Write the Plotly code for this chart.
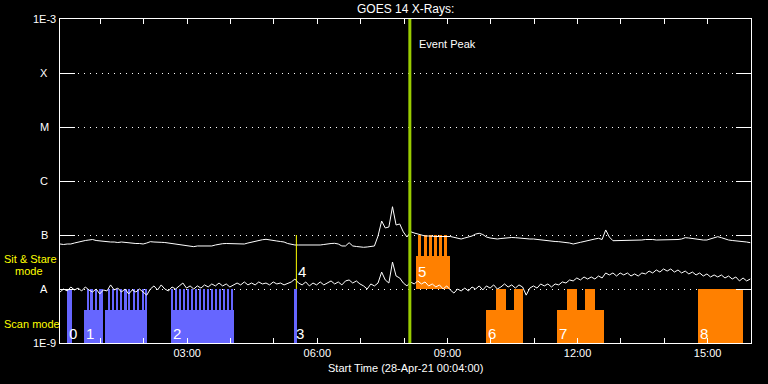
import pandas as pd
import plotly.graph_objects as go

DAY = "2021-04-28"
START = "00:04"
END = "16:00"
SAMPLE_MIN = 5

# GOES 14 long (upper) and short (lower) channel, nW/m^2, 5-min samples from 00:04
long_nW = [
    68.1, 66.7, 68.1, 68.1, 71.1, 74.2, 75.8, 79.1, 80.8, 82.5,
    79.1, 77.4, 77.4, 75.8, 74.2, 74.2, 72.6, 74.2, 72.6, 71.1,
    71.1, 69.6, 69.6, 68.1, 71.1, 75.2, 74.2, 72.6, 73.2, 72.6,
    71.1, 71.1, 69.6, 68.1, 65.3, 63.9, 62.6, 60.8, 62.6, 62.6,
    63.4, 62.6, 62.6, 65.3, 68.1, 69.0, 69.6, 69.6, 70.2, 69.6,
    68.1, 68.1, 71.1, 74.2, 77.4, 80.8, 81.7, 83.2, 80.8, 77.4,
    77.4, 75.8, 74.2, 69.6, 66.7, 65.3, 65.3, 65.3, 65.3, 63.9,
    63.9, 63.4, 65.3, 66.7, 69.0, 69.6, 70.2, 68.1, 62.6, 62.6,
    72.0, 62.6, 61.3, 60.0, 59.2, 60.0, 60.8, 62.6, 95.8, 181.6,
    135, 140.6, 334, 153, 160, 114, 91.8, 115, 109, 104,
    97.8, 95.8, 95.8, 93.8, 93.8, 93.8, 93.8, 95.8, 93.8, 90.6,
    88.0, 84.3, 88.0, 91.8, 95.8, 104, 107.7, 102, 91.8, 88.0,
    86.1, 84.3, 86.1, 88.0, 89.2, 89.9, 89.2, 88.0, 84.3, 84.3,
    84.3, 84.3, 82.5, 82.5, 80.8, 79.8, 77.4, 75.8, 75.2, 74.2,
    73.2, 71.1, 68.1, 69.6, 73.2, 75.8, 79.1, 80.8, 84.3, 86.9,
    82.5, 124, 91.8, 78.4, 78.4, 78.4, 79.1, 80.8, 80.8, 80.8,
    80.8, 80.8, 82.5, 83.2, 82.5, 80.8, 80.8, 80.8, 80.8, 80.8,
    80.8, 82.5, 84.3, 89.2, 88.0, 86.1, 82.5, 80.8, 80.8, 80.8,
    84.3, 89.9, 93.1, 89.2, 84.3, 80.8, 79.1, 78.4, 77.4, 75.8,
    74.2, 72.0,
]
short_nW = [
    8.8, 10.0, 9.2, 10.9, 9.6, 10.4, 9.2, 10.9, 9.6, 8.8,
    10.0, 8.1, 9.6, 9.2, 11.9, 9.6, 10.4, 8.8, 10.0, 8.1,
    9.6, 8.8, 10.0, 8.8, 7.7, 10.0, 11.4, 9.6, 11.9, 10.0,
    9.2, 10.9, 10.0, 11.4, 12.9, 10.4, 11.4, 10.0, 11.4, 10.4,
    11.9, 10.9, 12.4, 11.4, 12.9, 11.4, 12.4, 10.9, 11.9, 12.9,
    11.9, 13.5, 11.9, 12.9, 11.9, 13.5, 12.4, 12.9, 11.9, 13.5,
    12.4, 12.9, 11.9, 12.9, 13.5, 15.3, 12.9, 11.9, 13.5, 11.4,
    12.9, 11.9, 13.5, 11.9, 12.9, 14.1, 12.4, 13.5, 11.9, 14.1,
    14.7, 12.9, 14.1, 12.4, 11.4, 10.0, 12.4, 11.4, 12.9, 20.6,
    14.7, 12.9, 31.6, 17.4, 16.0, 12.9, 11.4, 13.5, 12.4, 14.1,
    12.4, 13.5, 11.4, 12.4, 10.9, 11.9, 10.0, 11.4, 9.6, 8.4,
    10.0, 9.2, 10.4, 9.2, 10.9, 10.0, 11.4, 9.6, 11.4, 10.4,
    11.9, 10.0, 10.9, 12.4, 10.9, 11.9, 10.4, 11.9, 10.9, 7.7,
    10.4, 11.4, 10.4, 12.4, 11.4, 12.4, 10.9, 12.4, 11.9, 13.5,
    12.9, 14.7, 14.1, 16.0, 14.7, 16.7, 15.3, 16.7, 15.3, 17.4,
    16.0, 19.8, 18.2, 19.8, 17.4, 19.8, 18.2, 19.8, 17.4, 19.0,
    17.4, 19.8, 19.0, 21.5, 19.8, 22.5, 20.6, 23.5, 21.5, 23.5,
    20.6, 22.5, 19.8, 21.5, 19.0, 20.6, 18.2, 19.8, 17.4, 19.0,
    16.7, 18.2, 16.7, 18.2, 16.0, 17.4, 15.3, 16.7, 14.1, 16.0,
    14.1, 15.3,
]

# Observation intervals (blue = scan, orange = other instrument)
scan_low_start = ["00:37", "01:06", "02:38"]
scan_low_end = ["01:00", "02:05", "04:05"]
scan_full_start = ["00:13", "01:02", "05:28"]
scan_full_end = ["00:20", "01:04", "05:32"]
scan_spike_start = ["00:41", "00:46", "00:52", "00:58", "01:10", "01:16", "01:21",
                    "01:27", "01:33", "01:38", "01:45", "01:50", "01:57", "02:02",
                    "02:38", "02:43", "02:49", "02:54", "03:00", "03:05", "03:11",
                    "03:16", "03:22", "03:27", "03:33", "03:38", "03:44", "03:49",
                    "03:55", "04:01"]
scan_spike_min = 3

sit_low_start = ["08:16"]
sit_low_end = ["09:03"]
sit_spike_start = ["08:19", "08:27", "08:34", "08:41", "08:48", "08:55"]
sit_spike_min = 5

orange_low_start = ["09:54", "11:31"]
orange_low_end = ["10:45", "12:36"]
orange_full_start = ["10:07", "10:32", "11:45", "12:10", "14:47"]
orange_full_end = ["10:21", "10:45", "11:59", "12:24", "15:49"]

marker4_time = "05:31"
event_peak_time = "08:08"

obs_labels = ["0", "1", "2", "3", "4", "5", "6", "7", "8"]
obs_label_times = ["00:13", "00:37", "02:38", "05:28", "05:31", "08:16", "09:54", "11:31", "14:47"]
obs_label_band = ["scan", "scan", "scan", "scan", "sit", "sit", "scan", "scan", "scan"]

y_tick_vals = [1e-9, 1e-8, 1e-7, 1e-6, 1e-5, 1e-4, 1e-3]
y_tick_text = ["1E-9", "A", "B", "C", "M", "X", "1E-3"]
x_tick_hours = list(range(1, 16))

SCAN_LO, SCAN_MID, SCAN_HI = 1e-9, 4e-9, 1e-8
SIT_LO, SIT_MID, SIT_HI = 1e-8, 4e-8, 1e-7

BLUE = "#6666ff"
ORANGE = "#ff8000"
PEAK = "#99cc00"
YELLOW = "#ffff00"
FONT = "Liberation Sans"


def ts(hm):
    return pd.Timestamp(f"{DAY} {hm}")


times = [ts(START) + pd.Timedelta(minutes=SAMPLE_MIN * i) for i in range(len(long_nW))]


def bar_trace(starts, ends, lo, hi, color):
    s = [ts(a) for a in starts]
    e = [ts(b) for b in ends]
    centers = [a + (b - a) / 2 for a, b in zip(s, e)]
    widths = [(b - a).total_seconds() * 1000 for a, b in zip(s, e)]
    return go.Bar(x=centers, y=[hi - lo] * len(s), base=[lo] * len(s), width=widths,
                  marker=dict(color=color, line=dict(width=0)), hoverinfo="skip")


def spikes(starts, minutes):
    ends = [(ts(a) + pd.Timedelta(minutes=minutes)).strftime("%H:%M") for a in starts]
    return starts, ends


fig = go.Figure()
fig.add_trace(bar_trace(scan_low_start, scan_low_end, SCAN_LO, SCAN_MID, BLUE))
fig.add_trace(bar_trace(scan_full_start, scan_full_end, SCAN_LO, SCAN_HI, BLUE))
sps, spe = spikes(scan_spike_start, scan_spike_min)
fig.add_trace(bar_trace(sps, spe, SCAN_LO, SCAN_HI, BLUE))
fig.add_trace(bar_trace(sit_low_start, sit_low_end, SIT_LO, SIT_MID, ORANGE))
sps, spe = spikes(sit_spike_start, sit_spike_min)
fig.add_trace(bar_trace(sps, spe, SIT_LO, SIT_HI, ORANGE))
fig.add_trace(bar_trace(orange_low_start, orange_low_end, SCAN_LO, SCAN_MID, ORANGE))
fig.add_trace(bar_trace(orange_full_start, orange_full_end, SCAN_LO, SCAN_HI, ORANGE))

fig.add_trace(go.Scatter(x=times, y=[v * 1e-9 for v in long_nW], mode="lines",
                         line=dict(color="white", width=1), hoverinfo="skip"))
fig.add_trace(go.Scatter(x=times, y=[v * 1e-9 for v in short_nW], mode="lines",
                         line=dict(color="white", width=1), hoverinfo="skip"))

fig.add_trace(go.Scatter(x=[ts(marker4_time)] * 2, y=[SIT_LO, SIT_HI], mode="lines",
                         line=dict(color=YELLOW, width=1), hoverinfo="skip"))
fig.add_trace(go.Scatter(x=[ts(event_peak_time)] * 2, y=[1e-9, 1e-3], mode="lines",
                         line=dict(color=PEAK, width=3), hoverinfo="skip"))

PLOT_L, PLOT_R, PLOT_T, PLOT_B = 60, 751, 19, 343
PW, PH = PLOT_R - PLOT_L, PLOT_B - PLOT_T


def px_x(px):
    return (px - PLOT_L) / PW


def px_y(py):
    return (PLOT_B - py) / PH


annotations = []
for v, t in zip(y_tick_vals, y_tick_text):
    annotations.append(dict(x=px_x(44), xref="paper", y=pd.Series([v]).apply(lambda z: __import__("math").log10(z))[0],
                            yref="y", text=t, showarrow=False, xanchor="center", yanchor="middle",
                            font=dict(color="white", size=11, family=FONT)))

import math
for lab, t, band in zip(obs_labels, obs_label_times, obs_label_band):
    yv = math.log10(SCAN_LO) + 0.185 if band == "scan" else math.log10(SIT_LO) + 0.315
    annotations.append(dict(x=ts(t), xref="x", y=yv, yref="y", text=lab, showarrow=False,
                            xanchor="left", yanchor="middle", xshift=0,
                            font=dict(color="white", size=15, family=FONT)))

annotations.append(dict(x=ts(event_peak_time), xref="x", y=-3.463, yref="y", text="Event Peak",
                        showarrow=False, xanchor="left", yanchor="middle", xshift=7,
                        font=dict(color="white", size=11, family=FONT)))
annotations.append(dict(x=0.5, xref="paper", y=px_y(9), yref="paper", text="GOES 14 X-Rays:",
                        showarrow=False, xanchor="center", yanchor="middle",
                        font=dict(color="white", size=12, family=FONT)))
annotations.append(dict(x=0.5, xref="paper", y=px_y(368), yref="paper",
                        text="Start Time (28-Apr-21 00:04:00)",
                        showarrow=False, xanchor="center", yanchor="middle",
                        font=dict(color="white", size=11, family=FONT)))
annotations.append(dict(x=px_x(2), xref="paper", y=px_y(259), yref="paper", text="Sit & Stare",
                        showarrow=False, xanchor="left", yanchor="middle",
                        font=dict(color=YELLOW, size=11, family=FONT)))
annotations.append(dict(x=px_x(13), xref="paper", y=px_y(271), yref="paper", text="mode",
                        showarrow=False, xanchor="left", yanchor="middle",
                        font=dict(color=YELLOW, size=11, family=FONT)))
annotations.append(dict(x=px_x(2), xref="paper", y=px_y(324), yref="paper", text="Scan mode",
                        showarrow=False, xanchor="left", yanchor="middle",
                        font=dict(color=YELLOW, size=11, family=FONT)))

x_tickvals = [ts(f"{h:02d}:00") for h in x_tick_hours]
x_ticktext = [f"{h:02d}:00" if h % 3 == 0 else "" for h in x_tick_hours]

fig.update_layout(
    width=768, height=384,
    margin=dict(l=PLOT_L, r=768 - PLOT_R, t=PLOT_T, b=384 - PLOT_B),
    paper_bgcolor="black", plot_bgcolor="black",
    showlegend=False, barmode="overlay", bargap=0,
    annotations=annotations,
    xaxis=dict(type="date", range=[ts(START), ts(END)], tickvals=x_tickvals, ticktext=x_ticktext,
               ticks="inside", ticklen=5, tickcolor="white", tickwidth=1,
               showline=True, linecolor="white", linewidth=1, mirror="ticks",
               showgrid=False, zeroline=False,
               tickfont=dict(color="white", size=11, family=FONT)),
    yaxis=dict(type="log", range=[-9, -3], tickvals=y_tick_vals, showticklabels=False,
               ticks="inside", ticklen=15, tickcolor="white", tickwidth=1,
               showline=True, linecolor="white", linewidth=1, mirror="ticks",
               showgrid=True, gridcolor="white", gridwidth=1, griddash="1px,5px",
               zeroline=False),
)

fig.write_html("out.html", config={"displayModeBar": False},
               post_script="document.body.style.margin='0';")
